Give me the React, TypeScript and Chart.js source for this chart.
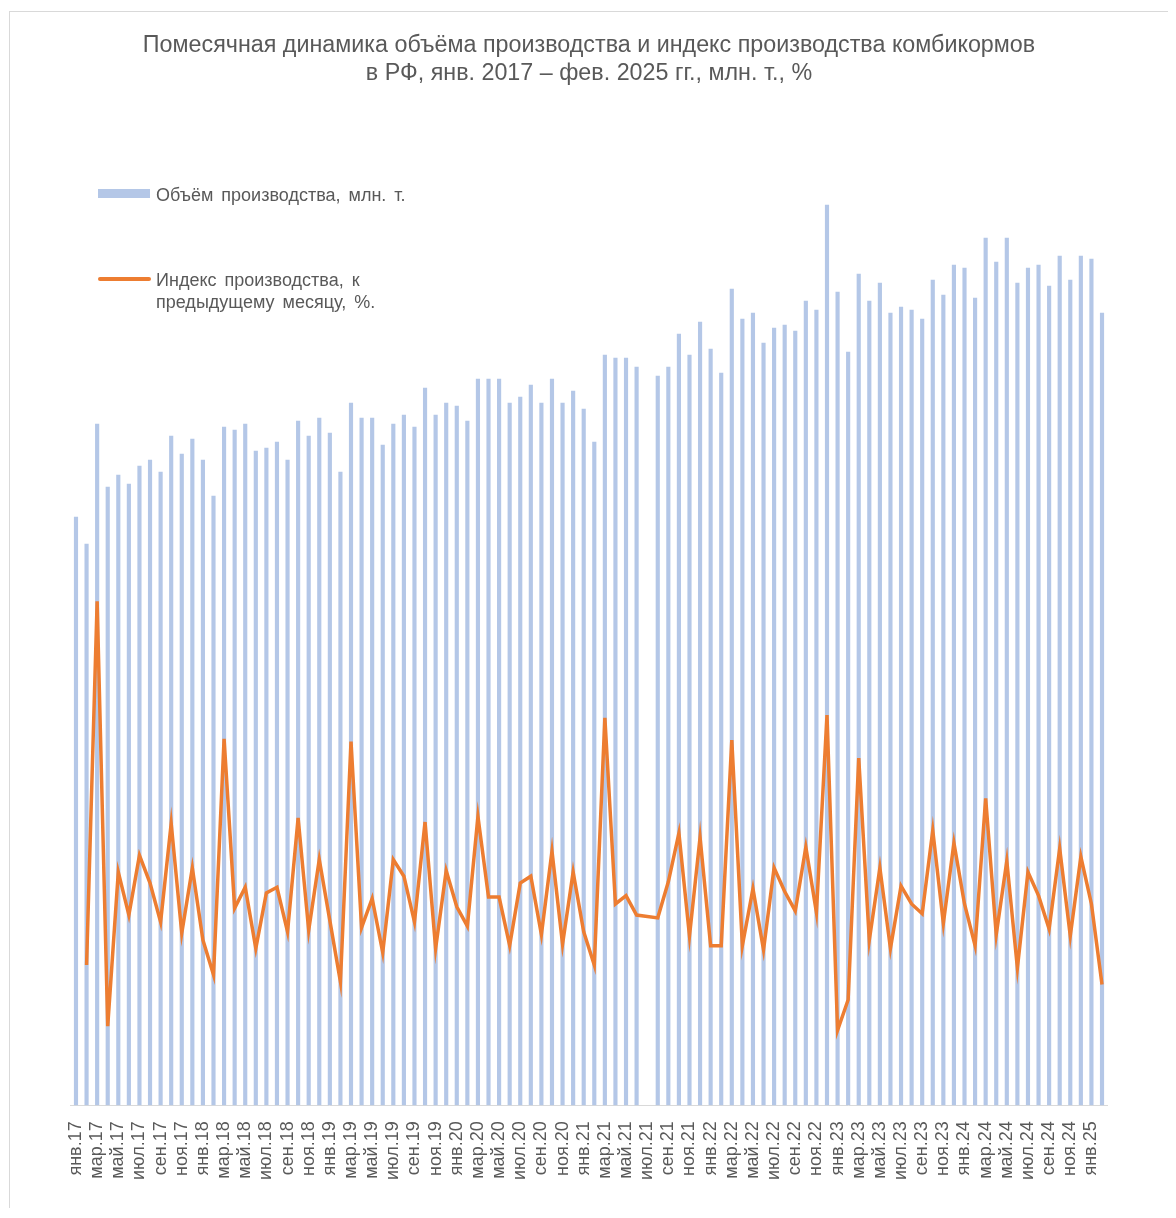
import { useEffect, useRef } from 'react';
import { Chart, registerables } from 'chart.js';

Chart.register(...registerables);

const monthNames = ['янв', 'фев', 'мар', 'апр', 'май', 'июн', 'июл', 'авг', 'сен', 'окт', 'ноя', 'дек'];
const years = ['17', '18', '19', '20', '21', '22', '23', '24', '25'];
const lastYearMonths = 2;

const categories: string[] = [];
years.forEach((y, yi) => {
  const n = yi === years.length - 1 ? lastYearMonths : 12;
  for (let m = 0; m < n; m++) categories.push(`${monthNames[m]}.${y}`);
});

// Объём производства, млн. т.
const volume: (number | null)[] = [
  1.96, 1.87, 2.27, 2.06, 2.10, 2.07, 2.13, 2.15, 2.11, 2.23, 2.17, 2.22,
  2.15, 2.03, 2.26, 2.25, 2.27, 2.18, 2.19, 2.21, 2.15, 2.28, 2.23, 2.29,
  2.24, 2.11, 2.34, 2.29, 2.29, 2.20, 2.27, 2.30, 2.26, 2.39, 2.30, 2.34,
  2.33, 2.28, 2.42, 2.42, 2.42, 2.34, 2.36, 2.40, 2.34, 2.42, 2.34, 2.38,
  2.32, 2.21, 2.50, 2.49, 2.49, 2.46, null, 2.43, 2.46, 2.57, 2.50, 2.61,
  2.52, 2.44, 2.72, 2.62, 2.64, 2.54, 2.59, 2.60, 2.58, 2.68, 2.65, 3.00,
  2.71, 2.51, 2.77, 2.68, 2.74, 2.64, 2.66, 2.65, 2.62, 2.75, 2.70, 2.80,
  2.79, 2.69, 2.89, 2.81, 2.89, 2.74, 2.79, 2.80, 2.73, 2.83, 2.75, 2.83,
  2.82, 2.64,
];

// Индекс производства, к предыдущему месяцу, %
const indexPct: (number | null)[] = [
  null, 95.1, 121.3, 90.7, 101.8, 98.7, 103.0, 101.0, 98.2, 105.3, 97.4, 102.1,
  96.9, 94.4, 111.4, 99.2, 100.7, 96.3, 100.3, 100.7, 97.5, 105.7, 97.6, 102.7,
  98.3, 93.9, 111.2, 97.8, 99.9, 96.0, 102.7, 101.5, 98.2, 105.4, 96.3, 101.9,
  99.3, 97.9, 105.8, 100.0, 100.0, 96.5, 101.0, 101.5, 97.3, 103.3, 96.6, 101.8,
  97.5, 95.1, 112.9, 99.5, 100.1, 98.7, null, 98.5, 101.1, 104.6, 97.2, 104.3,
  96.5, 96.5, 111.3, 96.5, 100.6, 96.2, 102.1, 100.4, 99.0, 103.6, 98.9, 113.1,
  90.4, 92.6, 110.0, 96.9, 102.1, 96.3, 100.8, 99.5, 98.8, 104.8, 98.1, 103.9,
  99.5, 96.5, 107.1, 97.3, 102.6, 94.9, 101.8, 100.1, 97.7, 103.5, 97.2, 102.9,
  99.5, 93.7,
];

const titleLines = [
  'Помесячная динамика объёма производства и индекс производства комбикормов',
  'в РФ, янв. 2017 – фев. 2025 гг., млн. т., %',
];
const barLabel = 'Объём производства, млн. т.';
const lineLabelLines = ['Индекс производства, к', 'предыдущему месяцу, %.'];

const FONT = '"Liberation Sans", Arial, sans-serif';
const TEXT = '#595959';
const BAR_COLOR = '#b4c7e7';
const LINE_COLOR = '#ed7d31';

export default function App() {
  const ref = useRef<HTMLCanvasElement | null>(null);

  useEffect(() => {
    if (!ref.current) return;
    const chart = new Chart(ref.current, {
      type: 'bar',
      data: {
        labels: categories,
        datasets: [
          {
            type: 'line',
            label: lineLabelLines.join(' '),
            data: indexPct,
            yAxisID: 'y1',
            borderColor: LINE_COLOR,
            backgroundColor: LINE_COLOR,
            borderWidth: 3.5,
            pointRadius: 0,
            tension: 0,
            spanGaps: true,
            order: 0,
          },
          {
            type: 'bar',
            label: barLabel,
            data: volume,
            yAxisID: 'y',
            backgroundColor: BAR_COLOR,
            barThickness: 3.5,
            order: 1,
          },
        ],
      },
      options: {
        responsive: false,
        animation: false,
        layout: { padding: { left: 62.7, right: 60.7, top: 0, bottom: 20 } },
        plugins: {
          legend: { display: false },
          tooltip: { enabled: false },
          title: {
            display: true,
            text: titleLines,
            color: TEXT,
            font: { family: FONT, size: 23.3, weight: 'normal', lineHeight: 28 / 23.3 },
            padding: { top: 24, bottom: 87 },
          },
        },
        scales: {
          x: {
            grid: { display: false },
            border: { display: true, color: '#d9d9d9', width: 1 },
            ticks: {
              color: TEXT,
              font: { family: FONT, size: 18 },
              minRotation: 90,
              maxRotation: 90,
              autoSkip: false,
              padding: 8,
              callback: (_v: any, i: number) => (i % 2 === 0 ? categories[i] : ''),
            },
          },
          y: { display: false, min: 0, max: 3.1 },
          y1: { display: false, min: 85, max: 152, position: 'right' },
        },
      },
    });
    return () => chart.destroy();
  }, []);

  const legendText: React.CSSProperties = {
    position: 'absolute',
    fontFamily: FONT,
    fontSize: 18,
    color: TEXT,
    wordSpacing: 3,
    lineHeight: '22px',
    whiteSpace: 'nowrap',
  };

  return (
    <div style={{ position: 'relative', width: 1160, height: 1200 }}>
      <div
        style={{
          position: 'absolute',
          left: 1,
          top: 3,
          width: 1200,
          height: 1197,
          borderLeft: '1px solid #d9d9d9',
          borderTop: '1px solid #d9d9d9',
          boxSizing: 'border-box',
          pointerEvents: 'none',
        }}
      />
      <canvas ref={ref} width={1160} height={1200} style={{ position: 'absolute', left: 0, top: 0 }} />
      <div style={{ position: 'absolute', left: 90, top: 181, width: 52, height: 9, background: BAR_COLOR }} />
      <div style={{ ...legendText, left: 148, top: 176 }}>{barLabel}</div>
      <div style={{ position: 'absolute', left: 90, top: 269, width: 53, height: 4, borderRadius: 2, background: LINE_COLOR }} />
      <div style={{ ...legendText, left: 148, top: 261 }}>
        {lineLabelLines[0]}
        <br />
        {lineLabelLines[1]}
      </div>
    </div>
  );
}
